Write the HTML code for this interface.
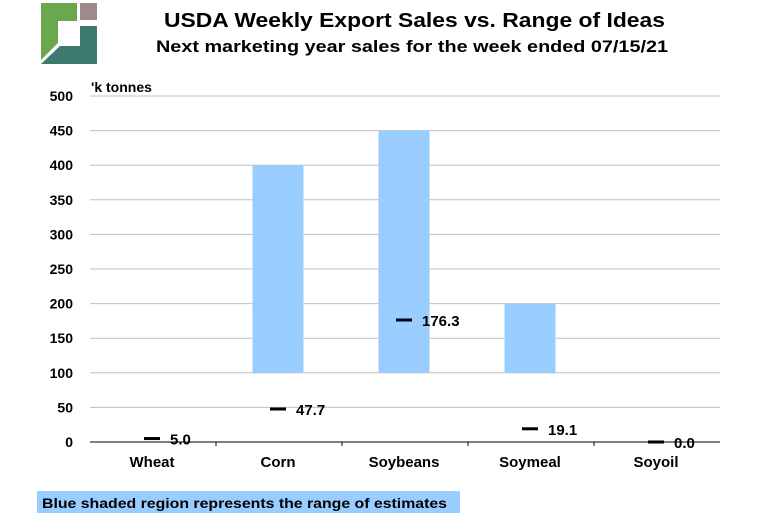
<!DOCTYPE html>
<html><head><meta charset="utf-8"><style>
body{margin:0;background:#fff;}
svg text{font-family:"Liberation Sans",Arial,sans-serif;}
</style></head><body>
<svg id="c" width="763" height="516" viewBox="0 0 763 516" xmlns="http://www.w3.org/2000/svg">
<g>
<polygon points="41,3 77,3 77,21 58,21 58,43 41,60" fill="#6aa84f"/>
<rect x="80" y="3" width="17" height="17" fill="#9e8a8a"/>
<polygon points="80,26 97,26 97,64 41,64 60,46 80,46" fill="#3e7b6e"/>
</g>
<text x="164" y="27" font-size="20" font-weight="bold" textLength="501" lengthAdjust="spacingAndGlyphs">USDA Weekly Export Sales vs. Range of Ideas</text>
<text x="156" y="52" font-size="17" font-weight="bold" textLength="512" lengthAdjust="spacingAndGlyphs">Next marketing year sales for the week ended 07/15/21</text>
<text x="91" y="92" font-size="14" font-weight="bold">'k tonnes</text>
<g id="grid"></g><g id="bars"></g><g id="marks"></g><g id="xl"></g>
<rect x="37" y="491" width="423" height="22" fill="#99ccff"/>
<text x="42" y="508" font-size="14" font-weight="bold" textLength="405" lengthAdjust="spacingAndGlyphs">Blue shaded region represents the range of estimates</text>
</svg>
<script>
const categories=["Wheat","Corn","Soybeans","Soymeal","Soyoil"];
const rangeLow=[0,100,100,100,0];
const rangeHigh=[0,400,450,200,0];
const actual=[5.0,47.7,176.3,19.1,0.0];
const yTicks=[0,50,100,150,200,250,300,350,400,450,500];
const NS="http://www.w3.org/2000/svg";
const x0=90,x1=720,yb=442,yt=96,ymax=500;
const y=v=>yb-(v/ymax)*(yb-yt);
const band=(x1-x0)/categories.length;
const xc=i=>x0+band*(i+0.5)-1;
function mk(t,a,p){const e=document.createElementNS(NS,t);for(const k in a)e.setAttribute(k,a[k]);p.appendChild(e);return e;}
const G=document.getElementById('grid'),B=document.getElementById('bars'),M=document.getElementById('marks'),X=document.getElementById('xl');
yTicks.forEach(v=>{
 if(v>0){
 const l=mk('line',{x1:x0,x2:x1,y1:y(v),y2:y(v),stroke:'#c0c0c0','stroke-width':1},G);
 
 
 }
 const t=mk('text',{x:73,y:y(v)+5,'text-anchor':'end','font-size':14,'font-weight':'bold'},G);t.textContent=v;
 
 
});
const ax=mk('line',{x1:x0,x2:x1,y1:yb,y2:yb,stroke:'#000','stroke-width':1},G);


for(let k=1;k<categories.length;k++){
 const tk=mk('line',{x1:x0+band*k,x2:x0+band*k,y1:yb,y2:yb+4,stroke:'#000'},G);
 
 
}
categories.forEach((c,i)=>{
 const bw=51;
 if(rangeHigh[i]>rangeLow[i]){
  const r=mk('rect',{x:xc(i)-bw/2,y:y(rangeHigh[i]),width:bw,height:y(rangeLow[i])-y(rangeHigh[i]),fill:'#99ccff'},B);
  
  
 }
 const m=mk('line',{x1:xc(i)-8,x2:xc(i)+8,y1:y(actual[i]),y2:y(actual[i]),stroke:'#000','stroke-width':3},M);
 
 
 const t=mk('text',{x:xc(i)+18,y:y(actual[i])+6,'font-size':15,'font-weight':'bold'},M);t.textContent=actual[i].toFixed(1);
 
 
 const xl=mk('text',{x:xc(i),y:467,'text-anchor':'middle','font-size':15,'font-weight':'bold'},X);xl.textContent=c;
 
 
});
</script>
</body></html>
